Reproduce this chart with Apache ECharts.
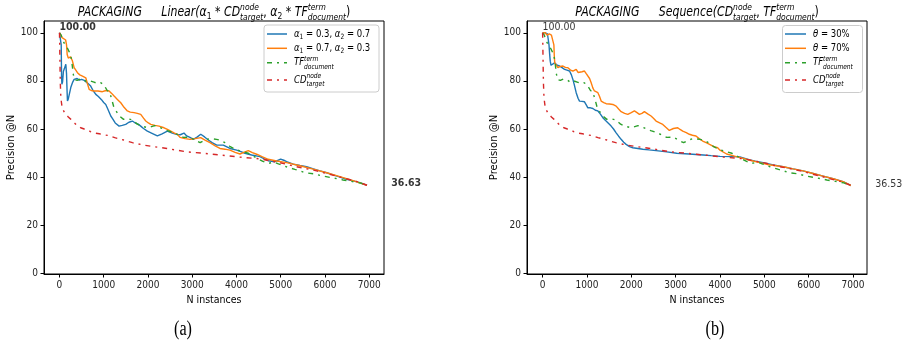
<!DOCTYPE html>
<html><head><meta charset="utf-8">
<script src="https://cdn.jsdelivr.net/npm/echarts@6/dist/echarts.min.js"></script>
<style>html,body{margin:0;padding:0;background:#fff}#c{width:903px;height:347px}</style>
</head><body><div id="c"></div>
<script>
// ---------------- data ----------------
const xTicks = [0, 1000, 2000, 3000, 4000, 5000, 6000, 7000];
const yTicks = [0, 20, 40, 60, 80, 100];

// shared baselines (both panels)
const tfDocument = [[1,100],[40,99],[70,97],[100,96.5],[130,95],[170,94],[210,92.5],[250,91],[280,88],[310,83],[340,80.5],[400,80.2],[470,80.8],[550,80.5],[620,79.5],[700,80],[780,79.5],[850,79],[930,79.3],[1000,78.5],[1080,76],[1130,75.5],[1180,72.5],[1230,69],[1280,67.5],[1350,65.5],[1450,64],[1550,64.2],[1650,63.8],[1760,62],[1850,61.2],[2000,60.5],[2150,61.4],[2290,60.5],[2440,59.3],[2600,58.3],[2800,56.5],[2950,56.6],[3100,55],[3180,54.3],[3300,55.5],[3400,56],[3550,55.7],[3650,55.2],[3740,54.3],[3850,52.8],[3970,51.5],[4100,50.8],[4270,49.9],[4450,48],[4600,46.5],[4720,45.7],[4850,46.2],[4950,45.5],[5130,44.3],[5320,43.2],[5450,42.5],[5550,41.8],[5740,41.4],[5960,40.4],[6200,39.6],[6410,38.8],[6600,38.2],[6790,37.6],[6950,36.6]];
const cdTarget = [[1,100],[5,96],[10,90],[15,84],[20,79],[30,74],[45,71],[60,69],[80,68],[110,67],[150,66],[200,65],[260,64],[330,62.6],[400,61.5],[480,60.5],[560,60],[640,59.6],[700,58.9],[800,58.3],[900,58],[1000,57.6],[1100,57.3],[1250,56.4],[1450,55.4],[1650,54.3],[1900,53.3],[2150,52.6],[2430,51.9],[2650,51.2],[2880,50.5],[3250,49.9],[3630,49.2],[4080,48.3],[4530,47.6],[4800,46.6],[4980,46],[5360,44.3],[5810,42.6],[6260,40.4],[6710,38.2],[6950,36.6]];

// panel (a): Linear combination
const linear_a03 = [[1,100],[25,99.5],[40,95],[48,82],[55,78.6],[70,79.5],[90,84],[110,85],[144,86.9],[160,83],[172,76],[181,71.6],[200,72.5],[230,75],[260,77.5],[300,79.5],[332,80.6],[370,81.2],[400,81],[450,80.3],[500,80.6],[560,80.2],[600,79.8],[640,79],[700,78],[760,76],[822,74.4],[880,73.5],[950,72.2],[1000,71],[1047,70.2],[1100,68],[1160,65.4],[1200,64.3],[1260,62.5],[1348,61.2],[1420,61.5],[1498,61.9],[1570,62.8],[1649,63.3],[1720,62.4],[1780,62],[1837,61.2],[1900,60.2],[1987,59.1],[2080,58.3],[2213,57.1],[2320,58],[2438,59.1],[2550,58.3],[2664,57.7],[2730,57.6],[2815,58.3],[2876,57.1],[2950,56.5],[3026,55.7],[3110,56.6],[3193,57.8],[3280,56.7],[3365,55.4],[3450,54.3],[3554,53.3],[3703,53.3],[3854,51.9],[4005,51.2],[4100,50.6],[4193,49.9],[4344,49.2],[4531,48.5],[4630,47.6],[4719,46.8],[4870,46.4],[4999,47.5],[5070,47],[5134,46.4],[5283,45.4],[5436,44.8],[5586,44.3],[5740,43.4],[5886,42.6],[6040,41.8],[6187,40.9],[6340,40],[6489,39.1],[6640,38.4],[6789,37.7],[6950,36.6]];
const linear_a07 = [[1,100],[30,99],[60,98],[100,97.5],[140,97],[160,95],[175,91],[200,89.5],[250,90],[290,88.5],[332,85.5],[370,84.5],[407,83.4],[460,82.5],[520,82],[595,81.3],[630,79],[671,76.5],[720,76],[783,75.8],[870,75.8],[971,75.5],[1050,76],[1122,75.8],[1180,74.8],[1235,73.7],[1310,72.3],[1386,70.9],[1460,69],[1535,67.5],[1600,67],[1687,66.8],[1760,66.5],[1837,66.1],[1900,64.5],[1951,63.3],[2010,62.5],[2064,61.9],[2160,61.5],[2251,61.2],[2364,60.5],[2440,59.8],[2515,59.1],[2600,58.3],[2664,57.8],[2725,56.5],[2840,56],[2951,55.7],[3070,56],[3193,56.4],[3300,55.3],[3403,54.3],[3520,53],[3628,51.9],[3740,51.6],[3854,51.2],[3970,50.3],[4080,49.6],[4180,50.4],[4268,51],[4360,50.2],[4457,49.5],[4590,48.4],[4719,47.4],[4908,46.7],[5134,46],[5435,44.7],[5735,43.3],[6037,41.8],[6338,40.2],[6638,38.5],[6950,36.6]];

// panel (b): Sequence
const seq_theta30 = [[1,100],[60,100],[110,99.5],[130,97],[145,95],[160,91],[173,88.2],[190,86.5],[220,87.2],[270,87.5],[330,86.5],[383,86.2],[440,85.5],[495,84.8],[550,84.5],[608,84.1],[650,82.5],[684,80.6],[720,78],[758,75.1],[800,72.8],[833,71.6],[890,71.5],[945,71.3],[985,70],[1021,68.8],[1080,68.8],[1134,68.5],[1190,67.8],[1247,67.5],[1300,66.3],[1359,64.7],[1420,63.5],[1472,62.6],[1546,61.2],[1600,60],[1659,58.4],[1715,57],[1771,55.7],[1830,54.5],[1884,53.6],[1960,52.7],[2035,52.2],[2150,51.9],[2260,51.6],[2400,51.3],[2560,51],[2800,50.5],[3025,49.9],[3300,49.6],[3624,49.2],[3800,48.9],[4000,48.6],[4300,48.5],[4450,48.4],[4560,47.8],[4675,47.1],[4800,46.6],[4974,46],[5200,45.1],[5424,44.3],[5650,43.4],[5874,42.6],[6100,41.5],[6325,40.4],[6550,39.3],[6775,38.1],[6950,36.5]];
const seq_theta70 = [[1,100],[60,100],[100,99],[150,99.5],[200,99],[240,98.5],[255,95],[265,90],[275,87.5],[308,87],[346,85.5],[400,86],[459,86.2],[520,85.5],[571,85.5],[630,84.5],[684,84.1],[720,84.8],[758,84.8],[800,83.5],[833,82.7],[890,83.8],[945,84.1],[985,83],[1021,82.7],[1060,81],[1096,79.2],[1135,77],[1170,75.8],[1210,75.5],[1247,75.1],[1285,73.5],[1321,71.6],[1380,71],[1434,70.5],[1510,70.4],[1584,70.2],[1659,69.5],[1715,68.3],[1771,67.2],[1850,66.5],[1921,66.1],[2000,66.8],[2071,67.5],[2130,66.8],[2184,66.1],[2240,66.5],[2296,67.2],[2370,66.3],[2446,65.4],[2500,64.5],[2559,63.3],[2640,62.5],[2710,61.9],[2780,60.7],[2858,59.4],[2950,60.2],[3048,60.5],[3100,59.8],[3160,59.1],[3240,58.5],[3309,57.8],[3380,57.4],[3459,57.1],[3530,56],[3610,55],[3700,54.2],[3797,53.3],[3870,52.6],[3948,52.2],[4000,51.2],[4150,49.6],[4330,48.7],[4524,47.8],[4700,46.9],[4900,46],[5100,45.1],[5424,44.3],[5650,43.4],[5874,42.6],[6100,41.5],[6325,40.4],[6550,39.3],[6775,38.1],[6950,36.5]];

// annotations [x, y, text]
const annotA = [[0, 100, '100.00'], [7500, 36.63, '36.63']];
const annotB = [[0, 100, '100.00'], [7500, 36.53, '36.53']];

// ---------------- styling / layout ----------------
const C_BLUE = '#1f77b4', C_ORANGE = '#ff7f0e', C_GREEN = '#2ca02c', C_RED = '#d62728';
const DASH = [5, 5, 2, 5];
const FONT = '"DejaVu Sans", sans-serif';
const AXFONT = '"DejaVu Sans Condensed", "DejaVu Sans", sans-serif';
const SQ = 0.81; // horizontal squeeze of the reference picture

const ctx = document.createElement('canvas').getContext('2d');
function tw(s, f) { ctx.font = f; return ctx.measureText(s).width; }

function buildMath(parts, size, z) {
  let x = 0; const kids = [];
  const small = +(size * 0.7).toFixed(1);
  for (const p of parts) {
    if (p.sp) { x += p.sp; continue; }
    const st = p.up ? '' : 'italic ';
    if (p.t !== undefined) {
      const f = `${st}${size}px ${FONT}`;
      kids.push({ type: 'text', z: z, x: x, y: 0, style: { text: p.t, font: f, fill: '#000', align: 'left', verticalAlign: 'middle' } });
      x += tw(p.t, f);
    } else {
      const f = `${st}${small}px ${FONT}`; let w = 0;
      if (p.sup) { kids.push({ type: 'text', z: z, x: x, y: -0.38 * size, style: { text: p.sup, font: f, fill: '#000', align: 'left', verticalAlign: 'middle' } }); w = Math.max(w, tw(p.sup, f)); }
      if (p.sub) { kids.push({ type: 'text', z: z, x: x, y: (p.sup ? 0.4 : 0.3) * size, style: { text: p.sub, font: f, fill: '#000', align: 'left', verticalAlign: 'middle' } }); w = Math.max(w, tw(p.sub, f)); }
      x += w;
    }
  }
  return { kids, width: x };
}
function mathGroup(parts, size, x, y, anchor, z) {
  const m = buildMath(parts, size, z || 10);
  const gx = anchor === 'center' ? x - m.width * SQ / 2 : x;
  return { type: 'group', x: gx, y: y, scaleX: SQ, children: m.kids };
}

const CDp = [{ t: 'CD' }, { sup: 'node', sub: 'target' }];
const TFp = [{ t: 'TF' }, { sup: 'term', sub: 'document' }];

const titleA = [{ t: 'PACKAGING' }, { sp: 24 }, { t: 'Linear(' }, { t: 'α' }, { sub: '1', up: true }, { t: ' * ', up: true }, ...CDp, { t: ', ', up: true }, { t: 'α' }, { sub: '2', up: true }, { t: ' * ', up: true }, ...TFp, { t: ')', up: true }];
const titleB = [{ t: 'PACKAGING' }, { sp: 24 }, { t: 'Sequence(' }, ...CDp, { t: ', ', up: true }, ...TFp, { t: ')', up: true }];

const legA = [
  { c: C_BLUE, dash: null, parts: [{ t: 'α' }, { sub: '1', up: true }, { t: ' = 0.3, ', up: true }, { t: 'α' }, { sub: '2', up: true }, { t: ' = 0.7', up: true }] },
  { c: C_ORANGE, dash: null, parts: [{ t: 'α' }, { sub: '1', up: true }, { t: ' = 0.7, ', up: true }, { t: 'α' }, { sub: '2', up: true }, { t: ' = 0.3', up: true }] },
  { c: C_GREEN, dash: DASH, parts: TFp },
  { c: C_RED, dash: DASH, parts: CDp }
];
const legB = [
  { c: C_BLUE, dash: null, parts: [{ t: 'θ' }, { t: ' = 30%', up: true }] },
  { c: C_ORANGE, dash: null, parts: [{ t: 'θ' }, { t: ' = 70%', up: true }] },
  { c: C_GREEN, dash: DASH, parts: TFp },
  { c: C_RED, dash: DASH, parts: CDp }
];
const legRowsY = [34, 48.3, 62.7, 80];

function legendGraphics(items, box, lineX0, lineX1, textX) {
  const out = [{ type: 'rect', shape: { x: box[0], y: box[1], width: box[2], height: box[3], r: 3 }, style: { fill: 'rgba(255,255,255,0.8)', stroke: '#cccccc', lineWidth: 1 }, z: 50 }];
  items.forEach((it, i) => {
    const y = legRowsY[i];
    out.push({ type: 'line', shape: { x1: lineX0, y1: y, x2: lineX1, y2: y }, style: { stroke: it.c, lineWidth: 1.5, lineDash: it.dash }, z: 51 });
    out.push(mathGroup(it.parts, 10.5, textX, y, 'left', 51));
  });
  return out;
}

const gridA = { left: 44, top: 21, width: 340, height: 253 };
const gridB = { left: 527, top: 21, width: 340, height: 253 };

function xAx(idx, min, max) {
  return {
    gridIndex: idx, type: 'value', min: min, max: max,
    axisLine: { show: true, onZero: false, lineStyle: { color: '#000', width: 1 } },
    axisTick: { show: true, length: 3.5, lineStyle: { color: '#000' }, customValues: xTicks },
    axisLabel: { color: '#222', fontSize: 10, fontFamily: AXFONT, margin: 6, customValues: xTicks, formatter: v => String(v) },
    splitLine: { show: false },
    name: 'N instances', nameLocation: 'middle', nameGap: 18,
    nameTextStyle: { color: '#000', fontSize: 10.5, fontFamily: AXFONT }
  };
}
function yAx(idx) {
  return {
    gridIndex: idx, type: 'value', min: -0.3, max: 104.9,
    axisLine: { show: true, onZero: false, lineStyle: { color: '#000', width: 1 } },
    axisTick: { show: true, length: 3.5, lineStyle: { color: '#000' }, customValues: yTicks },
    axisLabel: { color: '#222', fontSize: 10, fontFamily: AXFONT, margin: 6, customValues: yTicks, formatter: v => String(v) },
    splitLine: { show: false },
    name: 'Precision @N', nameLocation: 'middle', nameGap: 28,
    nameTextStyle: { color: '#000', fontSize: 10, fontFamily: FONT }
  };
}
function lineS(idx, data, color, dash) {
  return {
    type: 'line', xAxisIndex: idx, yAxisIndex: idx, data: data, showSymbol: false, symbol: 'none',
    lineStyle: { color: color, width: 1.4, type: dash || 'solid' }, silent: true, animation: false
  };
}
function annotS(idx, arr, bold) {
  return {
    type: 'scatter', xAxisIndex: idx, yAxisIndex: idx, symbolSize: 0, clip: false, silent: true, z: 20,
    data: arr.map(a => ({
      value: [a[0], a[1]],
      label: { show: true, formatter: a[2], position: [0, 0], align: 'left', verticalAlign: 'bottom', offset: [0, a[1] === 100 ? 0 : 4],
        color: '#000', fontSize: 10.5, fontWeight: bold ? 'bold' : 'normal', fontFamily: AXFONT }
    }))
  };
}

const chart = echarts.init(document.getElementById('c'), null, { renderer: 'canvas', width: 903, height: 347 });
chart.setOption({
  animation: false,
  backgroundColor: '#fff',
  grid: [
    Object.assign({ show: true, borderColor: '#000', borderWidth: 1, backgroundColor: 'transparent' }, gridA),
    Object.assign({ show: true, borderColor: '#000', borderWidth: 1, backgroundColor: 'transparent' }, gridB)
  ],
  xAxis: [xAx(0, -349, 7335), xAx(1, -351, 7315)],
  yAxis: [yAx(0), yAx(1)],
  series: [
    lineS(0, linear_a03, C_BLUE), lineS(0, linear_a07, C_ORANGE), lineS(0, tfDocument, C_GREEN, DASH), lineS(0, cdTarget, C_RED, DASH),
    lineS(1, seq_theta30, C_BLUE), lineS(1, seq_theta70, C_ORANGE), lineS(1, tfDocument, C_GREEN, DASH), lineS(1, cdTarget, C_RED, DASH),
    annotS(0, annotA, true), annotS(1, annotB, false)
  ],
  graphic: [
    mathGroup(titleA, 13.5, 214, 12.5, 'center'),
    mathGroup(titleB, 13.5, 697, 12.5, 'center'),
    ...legendGraphics(legA, [264, 25, 115, 67], 267, 287, 294),
    ...legendGraphics(legB, [782.5, 25.5, 80, 67], 785, 806, 813),
    { type: 'group', x: 183, y: 330, scaleX: SQ, children: [{ type: 'text', x: 0, y: 0, style: { text: '(a)', font: '20px "Liberation Serif", serif', fill: '#000', align: 'center', verticalAlign: 'middle' } }] },
    { type: 'group', x: 715, y: 330, scaleX: SQ, children: [{ type: 'text', x: 0, y: 0, style: { text: '(b)', font: '20px "Liberation Serif", serif', fill: '#000', align: 'center', verticalAlign: 'middle' } }] }
  ]
});
</script></body></html>
